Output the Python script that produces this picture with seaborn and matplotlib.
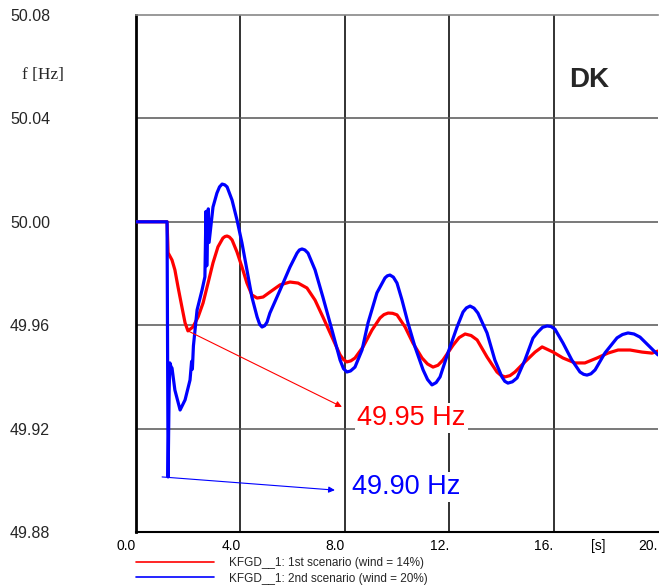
import seaborn as sns
import pandas as pd
import matplotlib.pyplot as plt
from matplotlib.lines import Line2D

# frequency traces (time in s, frequency in Hz)
red_t = [0.0, 1.19, 1.23, 1.38, 1.49, 1.61, 1.76, 1.88, 1.99, 2.18, 2.38, 2.57, 2.76, 2.95,
         3.14, 3.33, 3.41, 3.49, 3.58, 3.68, 3.87, 4.06, 4.25, 4.44, 4.64, 4.87, 5.13, 5.52,
         5.90, 6.21, 6.55, 6.86, 7.16, 7.51, 7.82, 7.95, 8.08, 8.23, 8.39, 8.70, 9.04, 9.35,
         9.50, 9.66, 9.83, 10.0, 10.31, 10.61, 10.96, 11.17, 11.38, 11.57, 11.76, 12.15,
         12.38, 12.61, 12.84, 13.07, 13.45, 13.83, 13.98, 14.14, 14.33, 14.52, 14.90, 15.29,
         15.56, 15.98, 16.36, 16.82, 17.20, 17.66, 18.08, 18.47, 18.93, 19.39, 19.77, 20.0]
red_f = [50.0, 50.0, 49.988, 49.9852, 49.9814, 49.9748, 49.967, 49.9609, 49.9578, 49.9593,
         49.9632, 49.9686, 49.9763, 49.9841, 49.9903, 49.9937, 49.9943, 49.9945, 49.9941,
         49.993, 49.9883, 49.9825, 49.9763, 49.9717, 49.9705, 49.9709, 49.9728, 49.9756,
         49.9767, 49.9763, 49.9744, 49.9697, 49.9632, 49.9554, 49.9485, 49.9467, 49.9458,
         49.9462, 49.9473, 49.9516, 49.9581, 49.9628, 49.9641, 49.9647, 49.9646, 49.964,
         49.9593, 49.9531, 49.9473, 49.945, 49.9438, 49.9445, 49.9465, 49.9523, 49.9552,
         49.9566, 49.956, 49.9543, 49.9477, 49.9419, 49.9406, 49.94, 49.9405, 49.9419,
         49.9458, 49.9496, 49.9516, 49.9496, 49.9473, 49.9454, 49.9454, 49.9473, 49.9492,
         49.9504, 49.9504, 49.9496, 49.9492, 49.95]

blue_t = [0.0, 1.19, 1.21, 1.23, 1.27, 1.30, 1.34, 1.38, 1.49, 1.69, 1.88, 2.07, 2.13, 2.16,
          2.20, 2.34, 2.53, 2.64, 2.68, 2.71, 2.77, 2.80, 2.95, 3.10, 3.20, 3.30, 3.40, 3.49,
          3.68, 3.87, 4.06, 4.25, 4.44, 4.64, 4.74, 4.83, 4.93, 5.02, 5.13, 5.52, 5.90, 6.17,
          6.26, 6.36, 6.47, 6.59, 6.86, 7.16, 7.51, 7.82, 7.95, 8.08, 8.22, 8.39, 8.66, 8.89,
          9.23, 9.54, 9.63, 9.73, 9.86, 10.0, 10.19, 10.42, 10.69, 11.0, 11.17, 11.34, 11.50,
          11.65, 11.95, 12.30, 12.53, 12.66, 12.80, 12.95, 13.10, 13.45, 13.75, 14.02, 14.13,
          14.25, 14.42, 14.60, 14.90, 15.21, 15.40, 15.58, 15.75, 15.90, 16.05, 16.36, 16.70,
          17.01, 17.15, 17.28, 17.43, 17.59, 17.97, 18.43, 18.64, 18.85, 19.08, 19.31, 19.69,
          20.0]
blue_f = [50.0, 50.0, 49.95, 49.9013, 49.935, 49.9454, 49.944, 49.9434, 49.9349, 49.9272,
          49.9311, 49.9388, 49.946, 49.943, 49.952, 49.9659, 49.9736, 49.9787, 50.004, 49.983,
          50.005, 49.992, 50.0057, 50.0111, 50.0135, 50.0146, 50.0143, 50.0135, 50.0084,
          50.0007, 49.9918, 49.9814, 49.9709, 49.9632, 49.9603, 49.9593, 49.9598, 49.9612,
          49.9647, 49.9736, 49.9825, 49.9879, 49.9891, 49.9895, 49.9891, 49.9879, 49.9814,
          49.9709, 49.9581, 49.9465, 49.9432, 49.9419, 49.9423, 49.9438, 49.9504, 49.9609,
          49.9725, 49.9783, 49.9791, 49.9794, 49.9786, 49.9763, 49.9698, 49.9609, 49.9516,
          49.9427, 49.939, 49.9369, 49.9378, 49.94, 49.9492, 49.9593, 49.9651, 49.9667,
          49.9674, 49.9666, 49.9647, 49.957, 49.9465, 49.94, 49.9383, 49.9376, 49.9381,
          49.9396, 49.9465, 49.955, 49.9574, 49.9592, 49.9597, 49.9595, 49.9585, 49.9531,
          49.9465, 49.9419, 49.941, 49.9407, 49.9412, 49.9427, 49.9493, 49.9551, 49.9564,
          49.957, 49.9566, 49.9554, 49.9516, 49.9485]

labels = ["KFGD__1: 1st scenario (wind = 14%)", "KFGD__1: 2nd scenario (wind = 20%)"]
colors = ["#ff0000", "#0000ff"]

x_major = [0, 4, 8, 12, 16, 20]
x_major_labels = ["0.0", "4.0", "8.0", "12.", "16.", "20."]
x_minor = [2, 6, 10, 14, 18]
x_minor_labels = ["", "", "", "", "[s]"]
y_major = [49.88, 49.92, 49.96, 50.00, 50.04, 50.08]
y_minor = [49.90, 49.94, 49.98, 50.02, 50.06]

# annotation anchors: (from point, to point) and label positions
red_arrow = ((1.99, 49.9578), (7.89, 49.9284))
blue_arrow = ((1.0, 49.9013), (7.62, 49.8962))
red_note = (8.47, 49.9241, "49.95 Hz")
blue_note = (8.28, 49.8974, "49.90 Hz")

df = pd.concat([
    pd.DataFrame({"t": red_t, "f": red_f, "scenario": labels[0]}),
    pd.DataFrame({"t": blue_t, "f": blue_f, "scenario": labels[1]}),
], ignore_index=True)

sns.set_style("white")
plt.rcParams["font.family"] = ["Liberation Sans", "DejaVu Sans"]

fig = plt.figure(figsize=(6.59, 5.85), dpi=100)
ax = fig.add_axes([136 / 659, 1 - 532 / 585, 522 / 659, 517 / 585])

sns.lineplot(data=df, x="t", y="f", hue="scenario", palette=colors, estimator=None,
             sort=False, linewidth=2.3, legend=False, ax=ax, zorder=3,
             solid_joinstyle="round", solid_capstyle="round")

ax.set_xlim(0, 20)
ax.set_ylim(49.88, 50.08)
ax.set_xlabel("")
ax.set_ylabel("")

ax.set_xticks(x_major, x_major_labels)
ax.set_xticks(x_minor, x_minor_labels, minor=True)
ax.set_yticks(y_major, [f"{v:.2f}" for v in y_major])
ax.set_yticks(y_minor, minor=True)
for lab in ax.get_xticklabels(which="both"):
    lab.set_ha("right")
for lab in ax.get_yticklabels():
    lab.set_ha("left")
ax.tick_params(axis="x", which="both", direction="in", labelsize=10, pad=5, colors="black")
ax.tick_params(axis="x", which="major", length=8, width=1.2)
ax.tick_params(axis="x", which="minor", length=5, width=1.0)
ax.tick_params(axis="y", which="major", direction="in", length=8, width=1.2,
               labelsize=11.5, pad=90.7)
ax.tick_params(axis="y", which="minor", direction="in", length=5, width=1.0)

ax.grid(False)
for v in x_major[1:-1]:
    ax.axvline(v, color="#222222", lw=1.3, zorder=1)
for v in y_major[1:-1]:
    ax.axhline(v, color="#555555", lw=1.1, zorder=1)

ax.spines["left"].set_linewidth(2)
ax.spines["left"].set_color("black")
ax.spines["bottom"].set_linewidth(1.5)
ax.spines["bottom"].set_color("black")
ax.spines["top"].set_color("#888888")
ax.spines["top"].set_linewidth(1.2)
ax.spines["right"].set_visible(False)

for (p0, p1), c in [(red_arrow, colors[0]), (blue_arrow, colors[1])]:
    ax.annotate("", xy=p1, xytext=p0,
                arrowprops=dict(arrowstyle="-|>", color=c, lw=0.8, mutation_scale=9,
                                shrinkA=0, shrinkB=0), zorder=4)

for (x, y, s), c in [(red_note, colors[0]), (blue_note, colors[1])]:
    ax.text(x, y, s, color=c, fontsize=19.5, ha="left", va="center", zorder=5,
            bbox=dict(facecolor="white", edgecolor="none", pad=1.5))

ax.text(17.36, 50.0549, "DK", fontsize=20, fontweight="bold", ha="center", va="center")
fig.text(43 / 659, 1 - 75 / 585, "f [Hz]", family="Liberation Serif", fontsize=12.5,
         ha="center", va="center")

handles = [Line2D([], [], color=c, lw=1.2) for c in colors]
fig.legend(handles, labels, loc="upper left", bbox_to_anchor=(136 / 659, 1 - 557 / 585),
           frameon=False, fontsize=8.5, handlelength=6.6, handletextpad=1.25,
           labelspacing=0.3, borderpad=0, borderaxespad=0)

fig.savefig("out.png", dpi=100)
